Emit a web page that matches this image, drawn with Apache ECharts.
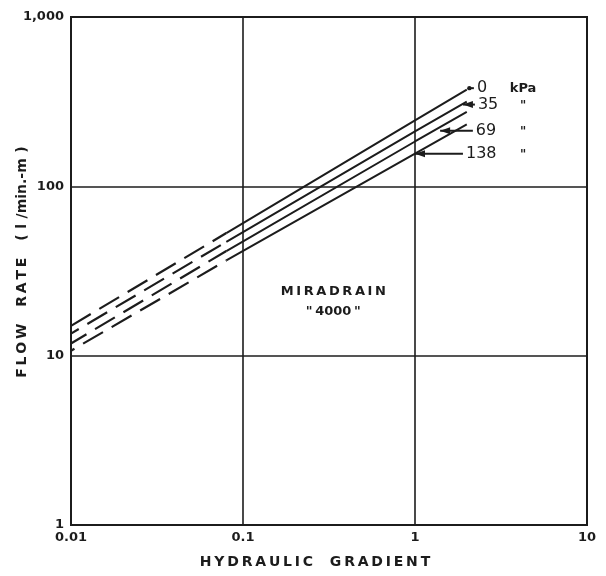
<!DOCTYPE html>
<html>
<head>
<meta charset="utf-8">
<script src="https://cdn.jsdelivr.net/npm/echarts@6/dist/echarts.min.js"></script>
<style>
  html, body { margin: 0; padding: 0; background: #ffffff; }
  #chart { width: 606px; height: 576px; }
</style>
</head>
<body>
<div id="chart"></div>
<script>
// Flow capacity of the drain core versus hydraulic gradient, one line per normal pressure.
const pressures = ['0', '35', '69', '138'];
// Extrapolated (dashed) part of each curve
const dashedGradient = [0.01, 0.08];
const dashedFlow = [
  [15, 53],
  [13.5, 47],
  [11.8, 41.5],
  [10.7, 36.5]
];
// Measured (solid) part of each curve
const solidGradient = [0.08, 1, 2];
const solidFlow = [
  [53, 245, 372],
  [47, 211, 316],
  [41.5, 184, 275],
  [36.5, 156, 232]
];
// Pointer for each pressure label: tip (on the curve) and tail (next to the text)
const pointerTip = [[2.07, 380], [1.9, 304], [1.4, 213], [1.0, 156]];
const pointerTailX = [2.2, 2.23, 2.17, 1.9];
const unitText = ['kPa', '"', '"', '"'];
const unitX = 4.25;

const xTicks = [0.01, 0.1, 1, 10];
const yTicks = ['1', '10', '100', '1,000'];
const xTitleWords = ['HYDRAULIC', 'GRADIENT'];
const yTitleWords = ['FLOW', 'RATE'];
const yTitleUnit = '( l /min.-m )';

const ink = '#1c1c1c';
const spaced = s => s.split('').join('\u2009');
const wordGap = '\u2003\u2009';

const chart = echarts.init(document.getElementById('chart'), null, { renderer: 'canvas' });

const series = [];
pressures.forEach((p, i) => {
  series.push({
    type: 'line',
    name: p + ' kPa (extrapolated)',
    data: dashedGradient.map((g, k) => [g, dashedFlow[i][k]]),
    symbol: 'none',
    silent: true,
    lineStyle: { color: ink, width: 2.2, type: [23, 10], dashOffset: [0, 14, 5, 19][i] },
    z: 3
  });
  series.push({
    type: 'line',
    name: p + ' kPa',
    data: solidGradient.map((g, k) => [g, solidFlow[i][k]]),
    symbol: 'none',
    silent: true,
    lineStyle: { color: ink, width: 2 },
    z: 3
  });
});

const tickFont = { fontFamily: 'DejaVu Sans', fontWeight: 'bold', fontSize: 13, color: ink };

chart.setOption({
  animation: false,
  backgroundColor: '#ffffff',
  grid: {
    left: 71, right: 19, top: 17, bottom: 51,
    outerBoundsMode: 'none', containLabel: false,
    show: true, borderColor: ink, borderWidth: 2
  },
  xAxis: {
    type: 'log', logBase: 10, min: 0.01, max: 10,
    axisLine: { lineStyle: { color: ink, width: 2 } },
    axisTick: { show: false },
    axisLabel: Object.assign({}, tickFont, {
      margin: 6,
      formatter: v => {
        const idx = xTicks.findIndex(t => Math.abs(Math.log10(t) - Math.log10(v)) < 1e-6);
        return idx >= 0 ? String(xTicks[idx]) : '';
      }
    }),
    splitLine: { show: true, lineStyle: { color: ink, width: 1.6 } },
    minorTick: { show: false }
  },
  yAxis: {
    type: 'log', logBase: 10, min: 1, max: 1000,
    axisLine: { lineStyle: { color: ink, width: 2 } },
    axisTick: { show: false },
    axisLabel: Object.assign({}, tickFont, {
      margin: 7,
      formatter: v => {
        const e = Math.round(Math.log10(v));
        return yTicks[e] !== undefined ? yTicks[e] : '';
      }
    }),
    splitLine: { show: true, lineStyle: { color: ink, width: 1.6 } }
  },
  series: series
});

// Pressure labels with their pointers, plus the product name, placed in data space
const toPx = pt => chart.convertToPixel({ gridIndex: 0 }, pt);
const graphics = [];
pressures.forEach((p, i) => {
  const tip = toPx(pointerTip[i]);
  const tail = toPx([pointerTailX[i], pointerTip[i][1]]);
  graphics.push({
    type: 'line', silent: true, z: 10,
    shape: { x1: tip[0], y1: tip[1], x2: tail[0], y2: tail[1] },
    style: { stroke: ink, lineWidth: 2 }
  });
  if (i === 0) {
    graphics.push({
      type: 'circle', silent: true, z: 10,
      shape: { cx: tip[0], cy: tip[1], r: 2.2 },
      style: { fill: ink }
    });
  } else {
    graphics.push({
      type: 'polygon', silent: true, z: 10,
      shape: { points: [[tip[0], tip[1]], [tip[0] + 10, tip[1] - 3.5], [tip[0] + 10, tip[1] + 3.5]] },
      style: { fill: ink }
    });
  }
  graphics.push({
    type: 'text', silent: true, z: 10,
    x: tail[0] + 3, y: tail[1],
    style: { text: p, fontFamily: 'DejaVu Sans', fontSize: 16, fill: ink, align: 'left', verticalAlign: 'middle' }
  });
  const u = toPx([unitX, pointerTip[i][1]]);
  graphics.push({
    type: 'text', silent: true, z: 10,
    x: u[0], y: u[1] + (i === 0 ? 0 : 1),
    style: { text: unitText[i], fontFamily: 'DejaVu Sans', fontWeight: 'bold', fontSize: i === 0 ? 13 : 12, fill: ink, align: 'center', verticalAlign: 'middle' }
  });
});

const tag = toPx([0.335, 20.8]);
graphics.push({
  type: 'text', silent: true, z: 10,
  x: tag[0], y: tag[1],
  style: {
    text: spaced('MIRADRAIN') + '\n"\u20094000\u2009"',
    fontFamily: 'DejaVu Sans', fontWeight: 'bold', fontSize: 13, lineHeight: 20,
    fill: ink, align: 'center', verticalAlign: 'middle'
  }
});

// Axis titles, set slightly left of and above the plot centre as lettered on the sheet
const titleFont = { fontFamily: 'DejaVu Sans', fontWeight: 'bold', fontSize: 14, fill: ink, align: 'center', verticalAlign: 'middle' };
graphics.push({
  type: 'text', silent: true, z: 10,
  x: 315, y: 562,
  style: Object.assign({ text: xTitleWords.map(spaced).join(wordGap) }, titleFont)
});
const yUnit = yTitleUnit.replace(/ /g, '\u2009\u2009');
graphics.push({
  type: 'text', silent: true, z: 10,
  x: 22, y: 262, rotation: Math.PI / 2,
  style: Object.assign({ text: yTitleWords.map(spaced).join(wordGap) + wordGap + yUnit }, titleFont)
});

chart.setOption({ graphic: graphics });
</script>
</body>
</html>
